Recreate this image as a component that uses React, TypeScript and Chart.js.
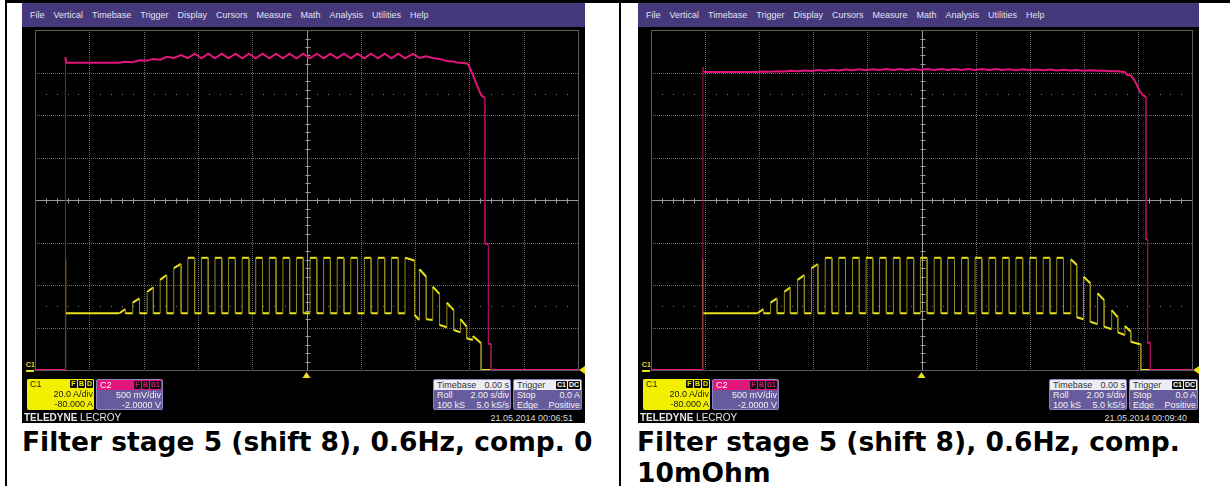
import React, { useEffect, useRef } from "react";
import { Chart, registerables } from "chart.js";

Chart.register(...registerables);

// ---------------- scale set-up (scope settings) ----------------
// Timebase 2.00 s/div, 10 divisions, centred on 0.00 s
const timeDivisions = [-10, -8, -6, -4, -2, 0, 2, 4, 6, 8, 10];
// C1: 20.0 A/div, offset -80.000 A  -> screen shows 0 .. 160 A
const c1Divisions = [0, 20, 40, 60, 80, 100, 120, 140, 160];
// C2: 500 mV/div, offset -2.0000 V -> screen shows 0 .. 4 V
const c2Divisions = [0, 0.5, 1, 1.5, 2, 2.5, 3, 3.5, 4];
const c1MarkerRows = [30, 130];
const triggerLevelA = 0;
const triggerTimeS = 0;

const menuItems = ["File", "Vertical", "Timebase", "Trigger", "Display", "Cursors", "Measure", "Math", "Analysis", "Utilities", "Help"];

const captions = ["Filter stage 5 (shift 8), 0.6Hz, comp. 0", "Filter stage 5 (shift 8), 0.6Hz, comp. 10mOhm"];
const timestamps = ["21.05.2014 00:06:51", "21.05.2014 00:09:40"];

// ---------------- left capture (comp. 0) ----------------
// C1 current [t s, A]
const leftC1Start: number[][] = [[-10, 0], [-8.88, 0], [-8.88, 52.1], [-8.87, 16.5], [-8.86, 26.7]];
// pulses: [rise s, fall s, low before A, high at rise A, high at fall A, low after A]
const leftC1Pulses: number[][] = [
  [-6.89, -6.67, 26.7, 26.7, 28.7, 26.7],
  [-6.4, -6.15, 26.7, 31.7, 33.7, 26.7],
  [-5.87, -5.64, 26.7, 36.8, 38.9, 26.7],
  [-5.39, -5.15, 26.7, 42.4, 44.7, 26.7],
  [-4.89, -4.62, 26.7, 47.9, 49.9, 26.7],
  [-4.37, -4.12, 26.7, 52.8, 52.8, 26.7],
  [-3.87, -3.62, 26.7, 52.8, 52.8, 26.7],
  [-3.37, -3.12, 26.7, 52.8, 52.8, 26.7],
  [-2.87, -2.62, 26.7, 52.8, 52.8, 26.7],
  [-2.37, -2.12, 26.7, 52.8, 52.8, 26.7],
  [-1.87, -1.62, 26.7, 52.8, 52.8, 26.7],
  [-1.37, -1.12, 26.7, 52.8, 52.8, 26.7],
  [-0.87, -0.62, 26.7, 52.8, 52.8, 26.7],
  [-0.37, -0.12, 26.7, 52.8, 52.8, 26.7],
  [0.13, 0.38, 26.7, 52.8, 52.8, 26.7],
  [0.63, 0.88, 26.7, 52.8, 52.8, 26.7],
  [1.13, 1.38, 26.7, 52.8, 52.8, 26.7],
  [1.63, 1.88, 26.7, 52.8, 52.8, 26.7],
  [2.13, 2.38, 26.7, 52.8, 52.8, 26.7],
  [2.63, 2.88, 26.7, 52.8, 52.8, 26.7],
  [3.13, 3.38, 26.7, 52.8, 52.8, 26.7],
  [3.63, 3.98, 26.7, 52.8, 51.5, 25.9],
  [4.16, 4.41, 23.5, 47.4, 43.9, 23.9],
  [4.65, 4.9, 23.5, 39.2, 35.8, 21.2],
  [5.17, 5.42, 20.1, 31.7, 28.2, 18.8],
  [5.67, 5.9, 17.7, 23.9, 20.4, 14.9],
  [6.13, 6.43, 14.1, 16.0, 12.6, 0],
];
const leftC1End: number[][] = [[10, 0]];
// C2 voltage [t s, V]
const leftC2Trace: number[][] = [
  [-10, 0], [-8.88, 0], [-8.88, 3.68], [-8.85, 3.615], [-6.9, 3.615],
  [-6.67, 3.627], [-6.4, 3.62], [-6.15, 3.645], [-5.87, 3.64], [-5.64, 3.66], [-5.39, 3.65],
  [-5.15, 3.685], [-4.89, 3.67], [-4.62, 3.705], [-4.37, 3.668],
  [-4.12, 3.721], [-3.87, 3.667], [-3.62, 3.721], [-3.37, 3.667], [-3.12, 3.721], [-2.87, 3.667],
  [-2.62, 3.721], [-2.37, 3.667], [-2.12, 3.721], [-1.87, 3.667], [-1.62, 3.721], [-1.37, 3.667],
  [-1.12, 3.721], [-0.87, 3.667], [-0.62, 3.721], [-0.37, 3.667], [-0.12, 3.721], [0.13, 3.667],
  [0.38, 3.721], [0.63, 3.667], [0.88, 3.721], [1.13, 3.667], [1.38, 3.721], [1.63, 3.667],
  [1.88, 3.721], [2.13, 3.667], [2.38, 3.721], [2.63, 3.667], [2.88, 3.721], [3.13, 3.667],
  [3.38, 3.721], [3.63, 3.667], [3.92, 3.72],
  [4.16, 3.672], [4.41, 3.69], [4.64, 3.671], [4.9, 3.66], [5.16, 3.636], [5.42, 3.63],
  [5.52, 3.618], [5.67, 3.616], [5.92, 3.606],
  [6.0, 3.568], [6.13, 3.47], [6.25, 3.373], [6.43, 3.235], [6.52, 3.208], [6.57, 3.208],
  [6.57, 1.49], [6.7, 1.48], [6.7, 0.306], [6.8, 0.306], [6.8, 0], [10, 0],
];

// ---------------- right capture (comp. 10mOhm) ----------------
const rightC1Start: number[][] = [[-10, 0], [-8.1, 0], [-8.1, 52.1], [-8.09, 25.5], [-8.08, 26.7]];
const rightC1Pulses: number[][] = [
  [-6.06, -5.84, 26.7, 26.7, 28.7, 26.7],
  [-5.58, -5.34, 26.7, 31.7, 33.7, 26.7],
  [-5.07, -4.85, 26.7, 36.8, 38.9, 26.7],
  [-4.58, -4.33, 26.7, 42.4, 44.7, 26.7],
  [-4.07, -3.83, 26.7, 47.9, 49.9, 26.7],
  [-3.56, -3.31, 26.7, 52.8, 52.8, 26.7],
  [-3.06, -2.81, 26.7, 52.8, 52.8, 26.7],
  [-2.55, -2.3, 26.7, 52.8, 52.8, 26.7],
  [-2.05, -1.8, 26.7, 52.8, 52.8, 26.7],
  [-1.55, -1.3, 26.7, 52.8, 52.8, 26.7],
  [-1.04, -0.79, 26.7, 52.8, 52.8, 26.7],
  [-0.54, -0.29, 26.7, 52.8, 52.8, 26.7],
  [-0.04, 0.21, 26.7, 52.8, 52.8, 26.7],
  [0.47, 0.72, 26.7, 52.8, 52.8, 26.7],
  [0.97, 1.22, 26.7, 52.8, 52.8, 26.7],
  [1.48, 1.73, 26.7, 52.8, 52.8, 26.7],
  [1.98, 2.23, 26.7, 52.8, 52.8, 26.7],
  [2.49, 2.74, 26.7, 52.8, 52.8, 26.7],
  [2.99, 3.24, 26.7, 52.8, 52.8, 26.7],
  [3.49, 3.74, 26.7, 52.8, 52.8, 26.7],
  [4.0, 4.25, 26.7, 52.8, 52.8, 26.7],
  [4.5, 4.75, 26.7, 52.8, 52.8, 26.7],
  [5.0, 5.25, 26.7, 52.8, 52.8, 26.7],
  [5.52, 5.74, 26.7, 52.1, 49.4, 24.8],
  [5.99, 6.24, 23.9, 43.9, 40.8, 22.7],
  [6.51, 6.75, 21.6, 36.1, 32.9, 20.4],
  [7.03, 7.26, 19.2, 28.2, 24.8, 17.7],
  [7.52, 7.74, 16.5, 20.7, 18.0, 13.3],
];
const rightC1End: number[][] = [[8.07, 12.1], [8.11, 12.1], [8.11, 0], [10, 0]];
const rightC2Trace: number[][] = [
  [-10, 0], [-8.08, 0], [-8.08, 3.565], [-8.05, 3.506], [-6.06, 3.506],
  [-5.84, 3.512], [-5.58, 3.508], [-5.34, 3.516], [-5.07, 3.512], [-4.85, 3.52], [-4.58, 3.515],
  [-4.33, 3.524], [-4.07, 3.518], [-3.83, 3.528], [-3.56, 3.52],
  [-3.31, 3.532], [-3.06, 3.524], [-2.81, 3.535], [-2.55, 3.526], [-2.3, 3.537], [-2.05, 3.528],
  [-1.8, 3.539], [-1.55, 3.529], [-1.3, 3.54], [-1.04, 3.53], [-0.79, 3.541], [-0.54, 3.53],
  [-0.29, 3.541], [-0.04, 3.53], [0.21, 3.541], [0.47, 3.53], [0.72, 3.541], [0.97, 3.53],
  [1.22, 3.541], [1.48, 3.53], [1.73, 3.541], [1.98, 3.53], [2.23, 3.541], [2.49, 3.53],
  [2.74, 3.54], [2.99, 3.529], [3.24, 3.539], [3.49, 3.528], [3.74, 3.538], [4.0, 3.527],
  [4.25, 3.536], [4.5, 3.526], [4.75, 3.535], [5.0, 3.525], [5.25, 3.533], [5.52, 3.524],
  [5.74, 3.53], [5.99, 3.522], [6.24, 3.526], [6.51, 3.52], [6.75, 3.522], [7.03, 3.515],
  [7.26, 3.516], [7.52, 3.506], [7.6, 3.47], [7.74, 3.465], [7.85, 3.42], [7.95, 3.36],
  [8.05, 3.29], [8.18, 3.235], [8.3, 3.21], [8.3, 1.54], [8.36, 1.53], [8.36, 0.32],
  [8.46, 0.32], [8.46, 0], [10, 0],
];

// ---------------- styling ----------------
const YELLOW = "#e9e11c";
const YELLOW_EDGE = "#8f8a1e";
const PINK = "#e2157b";
const PINK_EDGE = "#a50f5b";
const GRID_DOT = "#6c6c6c";
const GRID_CENTER = "#9a9a9a";
const GRID_BORDER = "#5c5c5c";
const MENU_BG = "#45397c";
const BOX_BODY = "#665b9c";
const INFO_FONT = "'Liberation Sans Narrow', 'Liberation Sans', Arial, sans-serif";

type Pt = { x: number; y: number };

function buildPulsePath(start: number[][], pulses: number[][], end: number[][]): Pt[] {
  const pts: Pt[] = start.map(([x, y]) => ({ x, y }));
  for (const [rise, fall, lo0, hi0, hi1, lo1] of pulses) {
    pts.push({ x: rise, y: lo0 }, { x: rise, y: hi0 }, { x: fall, y: hi1 }, { x: fall, y: lo1 });
  }
  end.forEach(([x, y]) => pts.push({ x, y }));
  return pts;
}
const toPts = (arr: number[][]): Pt[] => arr.map(([x, y]) => ({ x, y }));

const isEdge = (c: any) => Math.abs(c.p1.parsed.x - c.p0.parsed.x) < 0.03;

const scopeGrid = {
  id: "scopeGrid",
  beforeDraw(chart: any) {
    const { ctx, width, height } = chart;
    ctx.save();
    ctx.fillStyle = "#000";
    ctx.fillRect(0, 0, width, height);
    ctx.restore();
  },
  beforeDatasetsDraw(chart: any) {
    const { ctx, chartArea: a, scales } = chart;
    const sx = scales.x;
    const sy = scales.yC1;
    const px = (v: number) => Math.round(sx.getPixelForValue(v)) + 0.5;
    const py = (v: number) => Math.round(sy.getPixelForValue(v)) + 0.5;
    const tFirst = timeDivisions[0];
    const tLast = timeDivisions[timeDivisions.length - 1];
    const tMid = timeDivisions[(timeDivisions.length - 1) / 2];
    const cFirst = c1Divisions[0];
    const cLast = c1Divisions[c1Divisions.length - 1];
    const cMid = c1Divisions[(c1Divisions.length - 1) / 2];
    ctx.save();
    ctx.lineWidth = 1;
    // dotted division lines
    ctx.strokeStyle = GRID_DOT;
    ctx.setLineDash([1, 1]);
    for (const t of timeDivisions) {
      if (t === tFirst || t === tLast || t === tMid) continue;
      ctx.beginPath();
      ctx.moveTo(px(t), a.top);
      ctx.lineTo(px(t), a.bottom);
      ctx.stroke();
    }
    for (const v of c1Divisions) {
      if (v === cFirst || v === cLast || v === cMid) continue;
      ctx.beginPath();
      ctx.moveTo(a.left, py(v));
      ctx.lineTo(a.right, py(v));
      ctx.stroke();
    }
    ctx.setLineDash([]);
    // sparse dotted rows (minor positions)
    ctx.fillStyle = "#808080";
    for (const row of c1MarkerRows) {
      for (let i = 0; i < timeDivisions.length - 1; i++) {
        for (let k = 1; k < 5; k++) {
          const t = timeDivisions[i] + ((timeDivisions[i + 1] - timeDivisions[i]) * k) / 5;
          ctx.fillRect(Math.round(sx.getPixelForValue(t)), Math.round(sy.getPixelForValue(row)), 1, 1);
        }
      }
    }
    // centre cross with minor ticks
    ctx.strokeStyle = GRID_CENTER;
    ctx.beginPath();
    ctx.moveTo(px(tMid), a.top);
    ctx.lineTo(px(tMid), a.bottom);
    ctx.moveTo(a.left, py(cMid));
    ctx.lineTo(a.right, py(cMid));
    for (let i = 0; i < timeDivisions.length - 1; i++) {
      for (let k = 1; k < 5; k++) {
        const t = timeDivisions[i] + ((timeDivisions[i + 1] - timeDivisions[i]) * k) / 5;
        ctx.moveTo(px(t), py(cMid) - 2);
        ctx.lineTo(px(t), py(cMid) + 3);
      }
    }
    for (let i = 0; i < c1Divisions.length - 1; i++) {
      for (let k = 1; k < 5; k++) {
        const v = c1Divisions[i] + ((c1Divisions[i + 1] - c1Divisions[i]) * k) / 5;
        ctx.moveTo(px(tMid) - 2, py(v));
        ctx.lineTo(px(tMid) + 3, py(v));
      }
    }
    ctx.stroke();
    // border
    ctx.strokeStyle = GRID_BORDER;
    ctx.strokeRect(px(tFirst), py(cLast), px(tLast) - px(tFirst), py(cFirst) - py(cLast));
    ctx.restore();
  },
  afterDatasetsDraw(chart: any) {
    const { ctx, chartArea: a, scales } = chart;
    const tx = scales.x.getPixelForValue(triggerTimeS);
    const ly = scales.yC1.getPixelForValue(triggerLevelA);
    ctx.save();
    ctx.fillStyle = YELLOW;
    // trigger position marker
    ctx.beginPath();
    ctx.moveTo(tx, a.bottom + 2);
    ctx.lineTo(tx - 4, a.bottom + 8);
    ctx.lineTo(tx + 4, a.bottom + 8);
    ctx.closePath();
    ctx.fill();
    // trigger level marker
    ctx.beginPath();
    ctx.moveTo(a.right + 1, ly);
    ctx.lineTo(a.right + 7, ly - 4);
    ctx.lineTo(a.right + 7, ly + 4);
    ctx.closePath();
    ctx.fill();
    // C1 ground marker
    ctx.fillRect(a.left - 9, Math.round(ly), 8, 2);
    ctx.restore();
  },
};

function Badge({ text, color }: { text: string; color: string }) {
  return (
    <span
      style={{
        display: "inline-block",
        background: "#0d0d0d",
        color,
        fontWeight: 700,
        fontSize: 7,
        lineHeight: "8px",
        height: 8,
        padding: "0 1px",
        minWidth: 5,
        textAlign: "center",
        borderRadius: 1,
        marginLeft: 1,
      }}
    >
      {text}
    </span>
  );
}

type BoxProps = {
  left: number;
  width: number;
  headerBg: string;
  headerFg: string;
  bodyBg: string;
  bodyFg: string;
  title: string;
  titleRight?: string;
  badges?: string[];
  badgeColor?: string;
  rows: string[][];
  border?: string;
};

function InfoBox(p: BoxProps) {
  return (
    <div
      style={{
        position: "absolute",
        left: p.left,
        top: 376,
        width: p.width,
        height: 31,
        boxSizing: "border-box",
        background: p.bodyBg,
        border: p.border ? `1px solid ${p.border}` : "none",
        borderRadius: 2,
        overflow: "hidden",
        fontFamily: INFO_FONT,
        fontSize: 9,
        color: p.bodyFg,
      }}
    >
      <div
        style={{
          height: 10,
          background: p.headerBg,
          color: p.headerFg,
          display: "flex",
          alignItems: "center",
          justifyContent: "space-between",
          padding: "0 1px 0 3px",
          lineHeight: "10px",
          whiteSpace: "nowrap",
        }}
      >
        <span>{p.title}</span>
        <span style={{ display: "flex", alignItems: "center" }}>
          {p.titleRight ? <span>{p.titleRight}</span> : null}
          {(p.badges || []).map((b, i) => (
            <Badge key={i} text={b} color={p.badgeColor || "#fff"} />
          ))}
        </span>
      </div>
      {p.rows.map(([l, r], i) => (
        <div
          key={i}
          style={{
            display: "flex",
            justifyContent: "space-between",
            padding: "0 1px 0 3px",
            height: 10,
            lineHeight: "10px",
            whiteSpace: "nowrap",
          }}
        >
          <span>{l}</span>
          <span>{r}</span>
        </div>
      ))}
    </div>
  );
}

function ScopePanel({ left, width, c1, c2, date }: { left: number; width: number; c1: Pt[]; c2: Pt[]; date: string }) {
  const ref = useRef<HTMLCanvasElement | null>(null);
  useEffect(() => {
    if (!ref.current) return;
    const chart = new Chart(ref.current, {
      type: "line",
      data: {
        datasets: [
          {
            label: "C2",
            data: c2 as any,
            yAxisID: "yC2",
            borderColor: PINK,
            borderWidth: 2,
            pointRadius: 0,
            tension: 0,
            fill: false,
            order: 0,
            segment: {
              borderColor: (c: any) => (isEdge(c) ? PINK_EDGE : undefined),
              borderWidth: (c: any) => (isEdge(c) ? 1 : undefined),
            } as any,
          },
          {
            label: "C1",
            data: c1 as any,
            yAxisID: "yC1",
            borderColor: YELLOW,
            borderWidth: 2,
            pointRadius: 0,
            tension: 0,
            fill: false,
            order: 1,
            segment: {
              borderColor: (c: any) => (isEdge(c) ? YELLOW_EDGE : undefined),
              borderWidth: (c: any) => (isEdge(c) ? 1 : undefined),
            } as any,
          },
        ],
      },
      options: {
        animation: false,
        responsive: false,
        devicePixelRatio: 1,
        events: [],
        layout: { padding: { left: 13, right: 7, top: 3, bottom: 9 } },
        plugins: { legend: { display: false }, tooltip: { enabled: false } },
        scales: {
          x: { type: "linear", min: timeDivisions[0], max: timeDivisions[timeDivisions.length - 1], display: false },
          yC1: { type: "linear", min: c1Divisions[0], max: c1Divisions[c1Divisions.length - 1], display: false },
          yC2: { type: "linear", min: c2Divisions[0], max: c2Divisions[c2Divisions.length - 1], display: false },
        },
      },
      plugins: [scopeGrid],
    });
    return () => chart.destroy();
  }, []);

  return (
    <div style={{ position: "absolute", left, top: 3, width, height: 420, background: "#000", overflow: "hidden" }}>
      <div style={{ position: "absolute", left: 0, top: 0, width, height: 24, background: MENU_BG }}>
        <div
          style={{
            position: "absolute",
            left: 8,
            top: 0,
            height: 24,
            display: "flex",
            gap: 9,
            lineHeight: "24px",
            fontFamily: "'Liberation Sans', Arial, sans-serif",
            fontSize: 9,
            color: "#e2e0ee",
            whiteSpace: "nowrap",
          }}
        >
          {menuItems.map((m) => (
            <span key={m}>{m}</span>
          ))}
        </div>
      </div>
      <canvas ref={ref} width={width} height={352} style={{ position: "absolute", left: 0, top: 24, width, height: 352 }} />
      <div
        style={{
          position: "absolute",
          left: 4,
          top: 358,
          fontFamily: INFO_FONT,
          fontSize: 7,
          fontWeight: 700,
          color: YELLOW,
          lineHeight: "8px",
        }}
      >
        C1
      </div>
      <InfoBox
        left={5}
        width={67}
        headerBg="#f3ef00"
        headerFg="#1a1a1a"
        bodyBg="#f3ef00"
        bodyFg="#1a1a1a"
        title="C1"
        badges={["F", "B", "D"]}
        badgeColor="#f3ef00"
        rows={[["", "20.0 A/div"], ["", "-80.000 A"]]}
      />
      <InfoBox
        left={74}
        width={67}
        headerBg="#e3167c"
        headerFg="#ffffff"
        bodyBg={BOX_BODY}
        bodyFg="#f2f2f2"
        border="#8c82c0"
        title="C2"
        badges={["F", "B", "D1"]}
        badgeColor="#e3167c"
        rows={[["", "500 mV/div"], ["", "-2.0000 V"]]}
      />
      <InfoBox
        left={411}
        width={78}
        headerBg="#eeedf6"
        headerFg="#333"
        bodyBg={BOX_BODY}
        bodyFg="#f2f2f2"
        border="#8c82c0"
        title="Timebase"
        titleRight="0.00 s"
        rows={[["Roll", "2.00 s/div"], ["100 kS", "5.0 kS/s"]]}
      />
      <InfoBox
        left={491}
        width={69}
        headerBg="#eeedf6"
        headerFg="#333"
        bodyBg={BOX_BODY}
        bodyFg="#f2f2f2"
        border="#8c82c0"
        title="Trigger"
        badges={["C1", "DC"]}
        badgeColor="#ffffff"
        rows={[["Stop", "0.0 A"], ["Edge", "Positive"]]}
      />
      <div
        style={{
          position: "absolute",
          left: 2,
          top: 409,
          fontFamily: INFO_FONT,
          fontSize: 10,
          lineHeight: "11px",
          color: "#e6e6e6",
          whiteSpace: "nowrap",
        }}
      >
        <b>TELEDYNE</b> LECROY
      </div>
      <div
        style={{
          position: "absolute",
          right: 12,
          top: 410,
          fontFamily: INFO_FONT,
          fontSize: 9,
          lineHeight: "11px",
          color: "#dcdcdc",
          whiteSpace: "nowrap",
        }}
      >
        {date}
      </div>
    </div>
  );
}

export default function App() {
  const leftC1 = buildPulsePath(leftC1Start, leftC1Pulses, leftC1End);
  const rightC1 = buildPulsePath(rightC1Start, rightC1Pulses, rightC1End);
  const leftC2 = toPts(leftC2Trace);
  const rightC2 = toPts(rightC2Trace);
  const captionStyle: React.CSSProperties = {
    position: "absolute",
    top: 426,
    width: 590,
    fontFamily: "'DejaVu Sans', Verdana, sans-serif",
    fontWeight: 700,
    fontSize: 26.5,
    lineHeight: "31px",
    color: "#000",
  };
  return (
    <div style={{ position: "absolute", left: 0, top: 0, width: 1230, height: 486, background: "#fff", overflow: "hidden" }}>
      {/* table borders */}
      <div style={{ position: "absolute", left: 5, top: 0, width: 1225, height: 3, background: "#000" }} />
      <div style={{ position: "absolute", left: 5, top: 0, width: 2, height: 486, background: "#000" }} />
      <div style={{ position: "absolute", left: 619, top: 0, width: 2, height: 486, background: "#000" }} />
      <ScopePanel left={22} width={563} c1={leftC1} c2={leftC2} date={timestamps[0]} />
      <ScopePanel left={638} width={561} c1={rightC1} c2={rightC2} date={timestamps[1]} />
      <div style={{ ...captionStyle, left: 22 }}>{captions[0]}</div>
      <div style={{ ...captionStyle, left: 637 }}>{captions[1]}</div>
    </div>
  );
}
